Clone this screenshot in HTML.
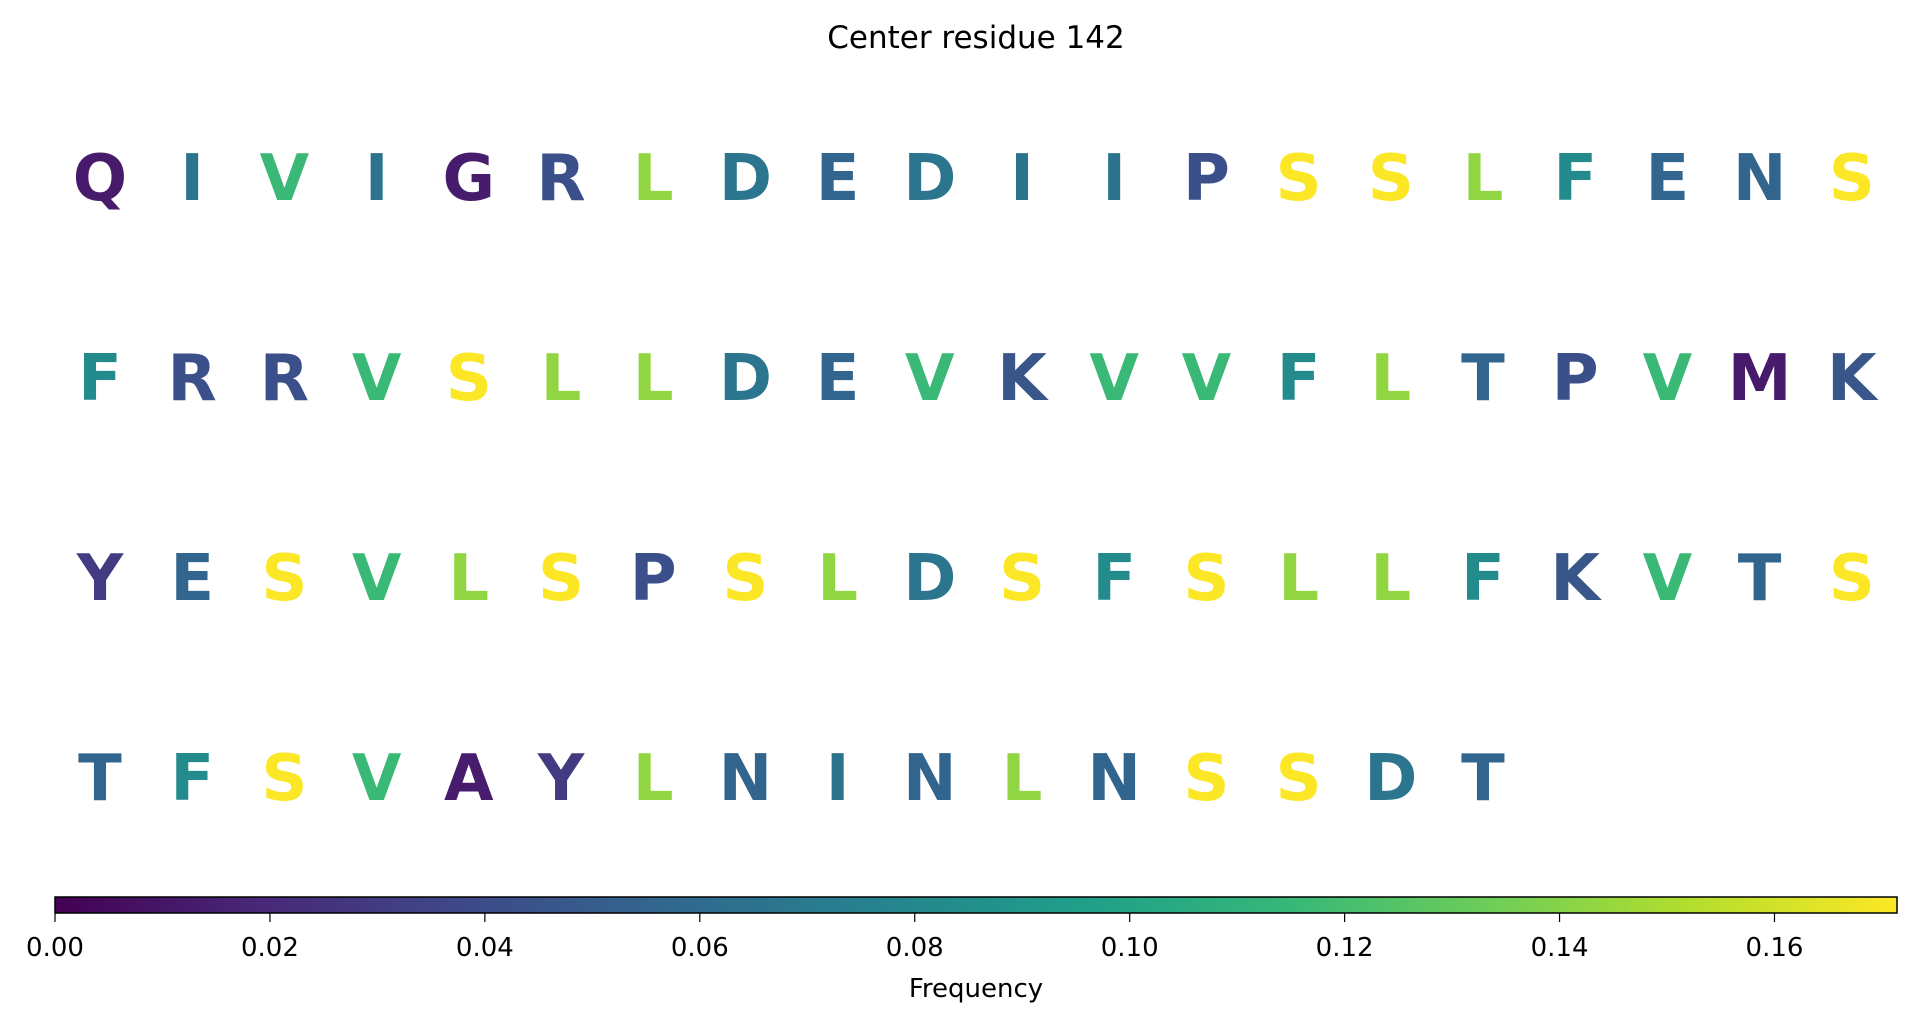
<!DOCTYPE html>
<html><head><meta charset="utf-8"><style>
html,body{margin:0;padding:0;background:#fff;}
svg{display:block;font-family:"DejaVu Sans","Liberation Sans",sans-serif;}
</style></head><body>
<svg id="chart" width="1917" height="1025" viewBox="0 0 1917 1025">
<text x="976" y="48" font-size="31" text-anchor="middle" fill="#000">Center residue 142</text>
<g id="letters"></g>
<defs><linearGradient id="vir" x1="0" x2="1" y1="0" y2="0"></linearGradient></defs>
<rect x="55" y="897" width="1842" height="16" fill="url(#vir)" stroke="#000" stroke-width="1.5"/>
<g id="ticks"></g>
<text x="976" y="997" font-size="26" text-anchor="middle" fill="#000">Frequency</text>
</svg>
<script>
const residues = ["QIVIGRLDEDIIPSSLFENS","FRRVSLLDEVKVVFLTPVMK","YESVLSPSLDSFSLLFKVTS","TFSVAYLNINLNSSDT"];
const letterKeys = ["S","L","V","F","D","I","E","T","N","K","R","P","Y","Q","G","M","A"];
const letterFreq = [0.171,0.143,0.116,0.082,0.067,0.066,0.056,0.055,0.055,0.046,0.042,0.042,0.03,0.012,0.013,0.012,0.013];
const tickValues = [0,0.02,0.04,0.06,0.08,0.10,0.12,0.14,0.16];
const tickLabels = ["0.00","0.02","0.04","0.06","0.08","0.10","0.12","0.14","0.16"];
const vmax = 0.1714;
const vir = [[68,1,84],[72,40,120],[62,73,137],[49,104,142],[38,130,142],[31,158,137],[53,183,121],[109,205,89],[180,222,44],[253,231,37]];
function cmap(t){t=Math.max(0,Math.min(1,t));const p=t*(vir.length-1);const i=Math.min(vir.length-2,Math.floor(p));const f=p-i;
 const c=vir[i].map((v,k)=>Math.round(v+(vir[i+1][k]-v)*f));return `rgb(${c[0]},${c[1]},${c[2]})`;}
const NS="http://www.w3.org/2000/svg";
const colX = i => 100 + i*92.2;
const rowY = r => 200 + r*200;
const barX = v => 55 + v/vmax*1842;
const g=document.getElementById('letters');
residues.forEach((row,r)=>{[...row].forEach((ch,i)=>{
 const t=document.createElementNS(NS,'text');
 
 
 t.setAttribute('x',colX(i));t.setAttribute('y',rowY(r));
 t.setAttribute('font-size','64');t.setAttribute('font-weight','bold');t.setAttribute('text-anchor','middle');
 t.setAttribute('fill',cmap(letterFreq[letterKeys.indexOf(ch)]/vmax));
 t.textContent=ch;g.appendChild(t);});});
const grad=document.getElementById('vir');
vir.forEach((c,i)=>{const s=document.createElementNS(NS,'stop');s.setAttribute('offset',i/(vir.length-1));s.setAttribute('stop-color',`rgb(${c})`);grad.appendChild(s);});
const tg=document.getElementById('ticks');
tickValues.forEach((v,i)=>{const x=barX(v);
 const l=document.createElementNS(NS,'line');
 
 
 l.setAttribute('x1',x);l.setAttribute('x2',x);l.setAttribute('y1',913);l.setAttribute('y2',922);l.setAttribute('stroke','#000');l.setAttribute('stroke-width','1.2');tg.appendChild(l);
 const t=document.createElementNS(NS,'text');
 
 
 t.setAttribute('x',x);t.setAttribute('y',956);t.setAttribute('font-size','26');t.setAttribute('text-anchor','middle');
 t.textContent=tickLabels[i];tg.appendChild(t);});
</script>
</body></html>
